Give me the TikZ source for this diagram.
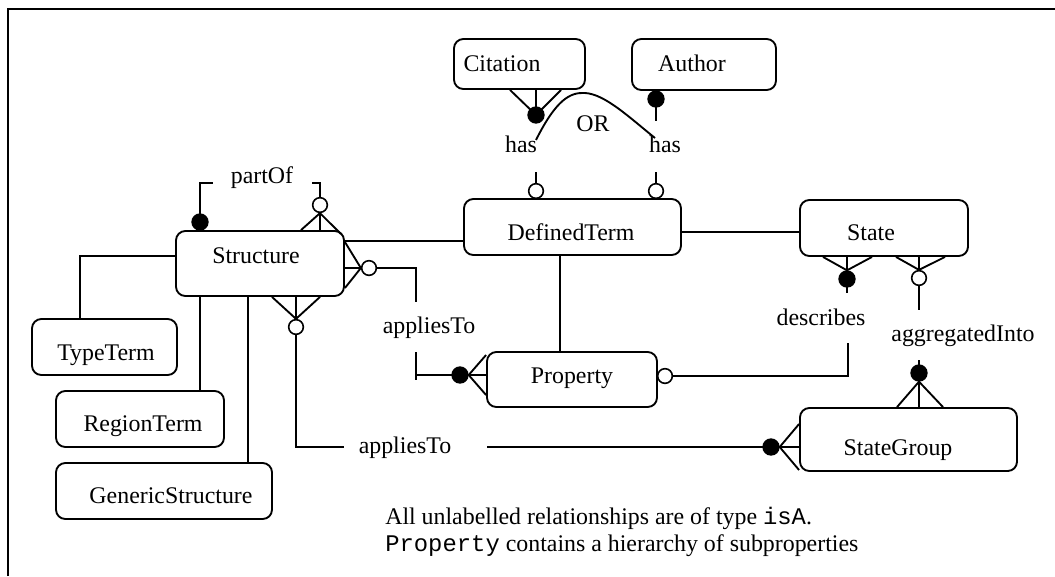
\documentclass[tikz,border=0pt]{standalone}
\usepackage{fontspec}
\setmainfont{Liberation Serif}
\setmonofont{Liberation Mono}
\usetikzlibrary{fit}
\pgfdeclarelayer{bg}
\pgfsetlayers{bg,main}
\begin{document}
\begin{tikzpicture}[x=0.75pt,y=-0.75pt,
  every node/.style={font=\fontsize{17.9}{21}\selectfont},
  ent/.style={draw, rounded corners=7pt, line width=1.4pt, inner sep=0pt},
  lbl/.style={anchor=base, inner sep=0pt},
  conn/.style={line width=1.4pt},
  fdot/.style={circle, fill=black, draw=black, line width=1pt, minimum size=12pt, inner sep=0pt},
  hdot/.style={circle, fill=white, draw=black, line width=1.2pt, minimum size=11pt, inner sep=0pt},
]
\useasboundingbox (0,0) rectangle (1055,576);

% entities
\node[ent, fit={(454,39) (585,89)}] (citation) {};
\node[lbl] (citation-t) at (502,71) {Citation};
\node[ent, fit={(632,39) (776,90)}] (author) {};
\node[lbl] (author-t) at (692,71) {Author};
\node[ent, fit={(464,199) (681,255)}] (defterm) {};
\node[lbl] (defterm-t) at (571,240) {DefinedTerm};
\node[ent, fit={(800,200) (968,256)}] (state) {};
\node[lbl] (state-t) at (871,240) {State};
\node[ent, fit={(176,231) (344,296)}] (structure) {};
\node[lbl] (structure-t) at (256,263) {Structure};
\node[ent, fit={(32,319) (177,375)}] (typeterm) {};
\node[lbl] (typeterm-t) at (106,360) {TypeTerm};
\node[ent, fit={(56,391) (224,447)}] (regionterm) {};
\node[lbl] (regionterm-t) at (143,431) {RegionTerm};
\node[ent, fit={(56,463) (272,519)}] (generic) {};
\node[lbl] (generic-t) at (171,503) {GenericStructure};
\node[ent, fit={(487,352) (657,407)}] (property) {};
\node[lbl] (property-t) at (572,383) {Property};
\node[ent, fit={(800,408) (1017,471)}] (stategroup) {};
\node[lbl] (stategroup-t) at (898,455) {StateGroup};

% cardinality dots
\node[fdot] (dCit) at (536,115) {};
\node[fdot] (dAuth) at (656,99) {};
\node[hdot] (oDT1) at (536,191) {};
\node[hdot] (oDT2) at (656,191) {};
\node[fdot] (dPart) at (200,222) {};
\node[hdot] (oPart) at (320,205) {};
\node[hdot] (oApp1) at (369,268) {};
\node[hdot] (oApp2) at (296,327) {};
\node[fdot] (dProp) at (460,375) {};
\node[hdot] (oProp) at (665,376) {};
\node[fdot] (dDesc) at (847,279) {};
\node[hdot] (oAgg) at (919,278) {};
\node[fdot] (dAgg) at (919,373) {};
\node[fdot] (dSG) at (771,447) {};

% relationship labels
\node[lbl] (has-a) at (521,152) {has};
\node[lbl] (has-b) at (665,152) {has};
\node[lbl] (or) at (593,131) {OR};
\node[lbl] (partof) at (262,183) {partOf};
\node[lbl] (applies-a) at (429,333) {appliesTo};
\node[lbl] (applies-b) at (405,453) {appliesTo};
\node[lbl] (describes) at (821,325) {describes};
\node[lbl] (aggregated) at (963,341) {aggregatedInto};

% notes
\node[anchor=base west, inner sep=0pt] (note1) at (385,524) {All unlabelled relationships are of type \texttt{isA}.};
\node[anchor=base west, inner sep=0pt] (note2) at (385,551) {\texttt{Property} contains a hierarchy of subproperties};

% free ends of broken connectors
\coordinate (hasA) at (536,172);
\coordinate (hasB1) at (656,121);
\coordinate (hasB2) at (656,172);
\coordinate (orL) at (536,140);
\coordinate (orR) at (655,138);
\coordinate (partL) at (213,183);
\coordinate (partR) at (312,183);
\coordinate (appA1) at (416,302);
\coordinate (appA2) at (416,352);
\coordinate (appA3) at (416,380);
\coordinate (appB1) at (344,447);
\coordinate (appB2) at (487,447);
\coordinate (descA) at (848,343);
\coordinate (descB) at (847,293);
\coordinate (aggA) at (919,310);
\coordinate (aggB) at (919,360);

\begin{pgfonlayer}{bg}
  % frame
  \draw[line width=2.2pt] (8,576) -- (8,9) -- (1055,9);

  % Citation / Author -- has -- DefinedTerm
  \draw[conn] (citation.south -| 510,0) -- (dCit.center) -- (citation.south -| 561,0);
  \draw[conn] (citation.south -| dCit) -- (dCit.center);
  \draw[conn] (hasA) -- (oDT1.center);
  \draw[conn] (dAuth.center) -- (hasB1);
  \draw[conn] (hasB2) -- (oDT2.center);
  \draw[conn] (orL) .. controls (556,100) and (570,92) .. (585,93)
                    .. controls (605,94) and (630,118) .. (orR);

  % partOf
  \draw[conn] (dPart.center) |- (partL);
  \draw[conn] (partR) -| (oPart.center);
  \draw[conn] (structure.north -| 301,0) -- (oPart.south) -- (341,234);
  \draw[conn] (oPart.south) -- (oPart.south |- structure.north);

  % Structure -- appliesTo -- Property
  \draw[conn] (structure.east |- 0,242) -- (oApp1.west) -- (structure.east |- 0,288);
  \draw[conn] (structure.east |- oApp1) -- (oApp1.center);
  \draw[conn] (oApp1.center) -| (appA1);
  \draw[conn] (appA2) -- (appA3);
  \draw[conn] (appA2 |- dProp) -- (dProp.center);
  \draw[conn] (property.west |- 0,355) -- (dProp.east) -- (property.west |- 0,395);
  \draw[conn] (property.west |- dProp) -- (dProp.east);

  % Property -- describes -- State
  \draw[conn] (oProp.center) -| (descA);
  \draw[conn] (dDesc.center) -- (descB);
  \draw[conn] (state.south -| 823,0) -- (dDesc.north) -- (state.south -| 872,0);
  \draw[conn] (state.south -| dDesc) -- (dDesc.center);

  % State -- aggregatedInto -- StateGroup
  \draw[conn] (state.south -| 896,0) -- (oAgg.north) -- (state.south -| 945,0);
  \draw[conn] (state.south -| oAgg) -- (oAgg.north);
  \draw[conn] (oAgg.center) -- (aggA);
  \draw[conn] (aggB) -- (dAgg.center);
  \draw[conn] (stategroup.north -| 897,0) -- (dAgg.south) -- (stategroup.north -| 943,0);
  \draw[conn] (stategroup.north -| dAgg) -- (dAgg.center);

  % Structure -- appliesTo -- StateGroup
  \draw[conn] (structure.south -| 272,0) -- (oApp2.north) -- (structure.south -| 320,0);
  \draw[conn] (structure.south -| oApp2) -- (oApp2.north);
  \draw[conn] (oApp2.center) |- (appB1);
  \draw[conn] (appB2) -- (dSG.center);
  \draw[conn] (stategroup.west |- 0,424) -- (dSG.east) -- (stategroup.west |- 0,470);
  \draw[conn] (stategroup.west |- dSG) -- (dSG.east);

  % isA relationships
  \draw[conn] (structure.east |- 0,241) -- (defterm.west |- 0,241);
  \draw[conn] (defterm.east |- 0,232) -- (state.west |- 0,232);
  \draw[conn] (defterm.south -| 560,0) -- (property.north -| 560,0);
  \draw[conn] (structure.west |- 0,256) -| (typeterm.north -| 80,0);
  \draw[conn] (structure.south -| 200,0) -- (regionterm.north -| 200,0);
  \draw[conn] (structure.south -| 248,0) -- (generic.north -| 248,0);
\end{pgfonlayer}
\end{tikzpicture}
\end{document}
